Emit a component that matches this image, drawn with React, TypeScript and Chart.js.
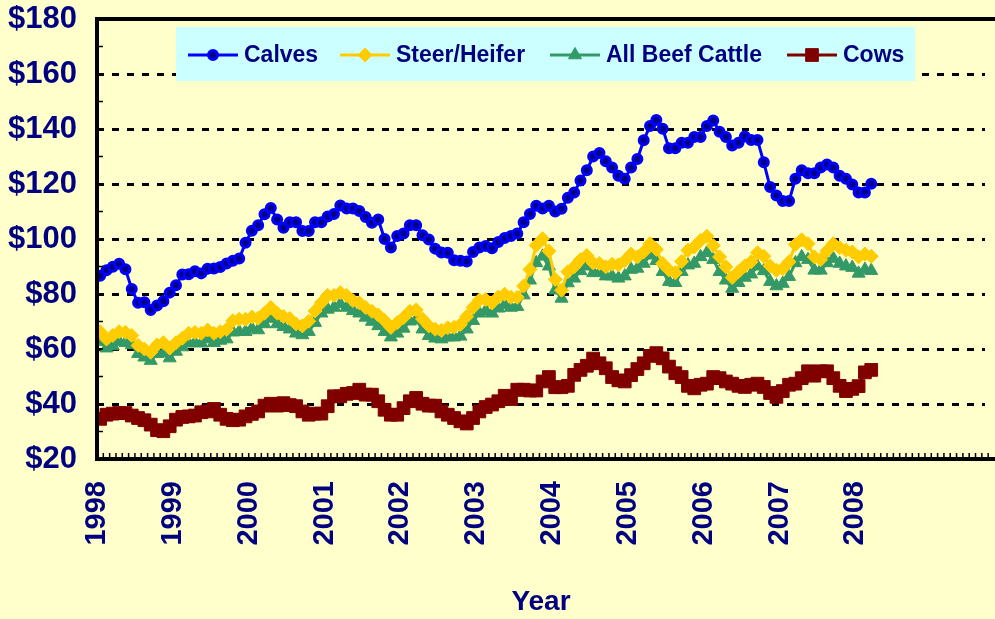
import React, { useEffect, useRef } from 'react';
import { Chart, registerables } from 'chart.js';
Chart.register(...registerables);

const yearLabels = ['1998', '1999', '2000', '2001', '2002', '2003', '2004', '2005', '2006', '2007', '2008'];
const yTicks = [20, 40, 60, 80, 100, 120, 140, 160, 180];
const seriesNames = ['Calves', 'Steer/Heifer', 'All Beef Cattle', 'Cows'];

// Monthly prices, Jan 1998 - Mar 2008
const calves = [
  86.6, 88.6, 89.9, 91.0, 89.0, 81.8, 76.8, 77.0, 74.2, 75.8, 77.4, 80.5,
  83.2, 87.1, 87.2, 88.3, 87.5, 89.2, 89.3, 89.8, 91.1, 92.1, 92.9, 98.6,
  103.0, 105.0, 109.0, 111.3, 107.1, 104.1, 106.1, 106.1, 102.9, 102.9, 106.1, 106.1,
  108.2, 109.1, 112.2, 111.1, 111.1, 110.2, 108.0, 105.9, 107.1, 100.0, 96.9, 101.1,
  102.0, 105.0, 105.0, 101.4, 99.8, 96.5, 95.1, 95.0, 92.3, 92.1, 91.8, 95.3,
  96.9, 97.5, 96.6, 98.9, 100.4, 101.1, 102.0, 106.1, 109.1, 112.1, 111.1, 112.1,
  110.0, 111.0, 115.0, 116.9, 121.3, 125.0, 130.0, 131.3, 128.3, 126.0, 123.0, 121.9,
  126.0, 129.1, 135.9, 141.1, 143.3, 140.1, 133.0, 133.0, 135.0, 135.0, 137.1, 137.1,
  141.1, 143.1, 139.0, 137.1, 134.0, 135.0, 137.3, 136.0, 136.0, 127.9, 118.9, 115.8,
  113.8, 113.8, 121.9, 125.0, 123.9, 123.9, 126.0, 127.1, 126.0, 123.0, 121.9, 119.8,
  116.9, 116.9, 120.1,
];
const steerHeifer = [
  66.3, 63.6, 64.9, 66.3, 66.1, 64.9, 61.3, 60.0, 58.8, 61.5, 62.3, 60.3,
  62.3, 63.9, 65.7, 66.0, 65.7, 66.9, 65.7, 66.3, 67.1, 70.3, 70.8, 70.8,
  71.6, 71.2, 73.0, 75.1, 73.0, 71.8, 71.1, 69.1, 68.4, 70.1, 73.8, 76.8,
  79.5, 79.5, 80.5, 79.5, 77.6, 76.8, 75.1, 73.7, 72.4, 70.3, 67.8, 69.6,
  71.4, 73.7, 74.2, 70.9, 68.4, 67.2, 66.7, 67.7, 67.9, 68.9, 71.8, 75.1,
  77.8, 78.0, 76.7, 78.9, 79.9, 78.8, 78.8, 82.9, 88.9, 97.7, 100.1, 95.6,
  85.3, 81.4, 88.1, 89.9, 92.5, 94.0, 91.3, 91.1, 89.9, 90.8, 90.6, 92.1,
  94.5, 93.5, 95.3, 98.3, 96.2, 91.1, 88.7, 87.7, 91.8, 95.9, 97.1, 99.5,
  101.0, 97.6, 93.5, 89.9, 86.0, 88.1, 90.2, 91.7, 95.0, 93.7, 90.2, 88.6,
  89.2, 91.7, 98.0, 99.7, 98.3, 93.5, 92.5, 95.7, 98.3, 96.9, 95.9, 95.3,
  93.5, 94.5, 93.7,
];
const allBeefCattle = [
  62.7, 60.3, 61.1, 62.7, 62.3, 61.5, 58.3, 57.0, 55.8, 58.3, 58.5, 56.7,
  59.1, 60.7, 62.1, 62.3, 62.1, 63.6, 62.3, 63.1, 63.6, 66.1, 66.3, 66.3,
  67.5, 66.9, 69.1, 71.1, 69.1, 68.1, 67.2, 65.7, 65.1, 66.3, 69.6, 73.0,
  74.4, 75.1, 76.4, 75.1, 73.9, 73.0, 71.5, 70.0, 68.4, 66.3, 64.3, 65.7,
  67.5, 70.1, 70.6, 67.2, 64.8, 63.9, 63.6, 64.3, 64.3, 64.6, 67.2, 70.3,
  73.0, 73.9, 73.0, 74.8, 76.0, 75.1, 75.4, 79.6, 85.0, 91.3, 93.7, 90.1,
  81.4, 78.4, 84.0, 85.7, 88.4, 90.1, 87.7, 87.7, 86.5, 86.5, 85.7, 86.5,
  88.9, 89.3, 91.1, 94.1, 92.1, 88.1, 84.5, 84.1, 88.1, 90.5, 91.1, 93.5,
  95.0, 92.5, 88.1, 85.0, 82.0, 84.1, 86.0, 87.2, 90.1, 88.4, 84.5, 82.9,
  83.8, 86.3, 91.3, 93.5, 92.5, 88.6, 88.6, 91.3, 92.9, 91.1, 90.1, 89.6,
  87.5, 88.9, 88.5,
];
const cows = [
  34.6, 36.1, 36.5, 36.7, 36.7, 35.8, 34.9, 34.1, 32.5, 30.5, 30.1, 31.9,
  34.3, 35.3, 35.5, 35.8, 37.0, 37.3, 38.2, 36.1, 34.6, 34.1, 34.3, 35.5,
  36.4, 37.3, 39.4, 40.1, 39.4, 40.3, 39.6, 39.2, 37.3, 36.1, 36.5, 36.5,
  39.2, 42.8, 42.8, 43.7, 44.0, 45.2, 43.4, 43.4, 41.0, 37.9, 36.1, 36.1,
  38.5, 41.0, 42.2, 40.1, 39.4, 39.4, 37.3, 36.1, 34.9, 33.7, 32.9, 34.9,
  37.3, 38.9, 39.8, 41.0, 43.0, 41.8, 45.2, 45.2, 44.9, 44.9, 48.2, 49.8,
  46.1, 46.1, 46.6, 50.6, 52.4, 53.9, 56.5, 54.8, 53.0, 49.8, 48.6, 48.2,
  50.5, 52.7, 54.8, 57.5, 58.5, 56.6, 53.6, 51.2, 49.8, 46.6, 45.7, 47.0,
  47.4, 49.8, 49.4, 48.2, 47.4, 46.6, 46.2, 47.0, 47.4, 46.2, 44.0, 42.6,
  44.7, 47.0, 47.4, 49.4, 51.9, 50.3, 51.9, 51.9, 49.4, 46.6, 44.7, 45.5,
  46.5, 51.5, 52.4,
];

const NAVY = '#000080';
const BG = '#FFFFCC';
const FONT = '"Liberation Sans", Arial, sans-serif';

const styles = [
  { color: '#0000FF', fill: '#000080', point: 'circle', radius: 4.5, bw: 3, lw: 3 },
  { color: '#FFCC00', fill: '#FFCC00', point: 'rectRot', radius: 7, bw: 1, lw: 3 },
  { color: '#339966', fill: '#339966', point: 'triangle', radius: 7.5, bw: 1, lw: 3 },
  { color: '#800000', fill: '#800000', point: 'rect', radius: 9, bw: 1, lw: 3 },
];

function drawMarker(ctx: CanvasRenderingContext2D, kind: string, x: number, y: number, s: any) {
  ctx.save();
  ctx.fillStyle = s.fill;
  ctx.strokeStyle = s.color;
  ctx.lineWidth = s.bw;
  ctx.beginPath();
  const r = s.radius;
  if (kind === 'circle') {
    ctx.arc(x, y, r, 0, Math.PI * 2);
  } else if (kind === 'rectRot') {
    ctx.moveTo(x, y - r); ctx.lineTo(x + r, y); ctx.lineTo(x, y + r); ctx.lineTo(x - r, y); ctx.closePath();
  } else if (kind === 'triangle') {
    ctx.moveTo(x, y - r); ctx.lineTo(x + r * 0.87, y + r * 0.5); ctx.lineTo(x - r * 0.87, y + r * 0.5); ctx.closePath();
  } else {
    const h = r * Math.SQRT1_2;
    ctx.rect(x - h, y - h, 2 * h, 2 * h);
  }
  ctx.fill();
  ctx.stroke();
  ctx.restore();
}

export default function App() {
  const ref = useRef<HTMLCanvasElement>(null);
  useEffect(() => {
    document.body.style.margin = '0';
    document.body.style.background = BG;
    const canvas = ref.current!;
    const series = [calves, steerHeifer, allBeefCattle, cows];
    const datasets = series.map((arr, k) => ({
      label: seriesNames[k],
      data: arr.map((v, i) => ({ x: i + 0.5, y: v })),
      borderColor: styles[k].color,
      backgroundColor: styles[k].fill,
      pointBorderColor: styles[k].color,
      pointBackgroundColor: styles[k].fill,
      pointStyle: styles[k].point as any,
      pointRadius: styles[k].radius,
      pointBorderWidth: styles[k].bw,
      borderWidth: styles[k].lw,
      tension: 0,
      order: k,
    }));

    const bgPlugin = {
      id: 'bg',
      beforeDraw(chart: any) {
        const c = chart.ctx;
        c.save();
        c.fillStyle = BG;
        c.fillRect(0, 0, chart.width, chart.height);
        c.restore();
      },
    };
    const framePlugin = {
      id: 'frame',
      afterDraw(chart: any) {
        const c = chart.ctx;
        const a = chart.chartArea;
        const xs = chart.scales.x;
        const ys = chart.scales.y;
        c.save();
        // minor ticks
        c.strokeStyle = '#000';
        c.lineWidth = 1.5;
        c.beginPath();
        for (let m = 0; m <= Math.ceil(xs.max); m++) {
          const px = xs.getPixelForValue(m);
          c.moveTo(px, a.bottom);
          c.lineTo(px, a.bottom - 6);
        }
        for (let v = 20; v <= 180; v += 10) {
          const py = ys.getPixelForValue(v);
          c.moveTo(a.left, py);
          c.lineTo(a.left + 6, py);
        }
        c.stroke();
        // frame
        c.lineWidth = 4;
        c.beginPath();
        c.moveTo(a.right + 10, a.top);
        c.lineTo(a.left, a.top);
        c.lineTo(a.left, a.bottom);
        c.lineTo(a.right + 10, a.bottom);
        c.stroke();

        // legend
        c.fillStyle = '#CCFFFF';
        c.fillRect(176, 27, 739, 54);
        const lineX = [188, 340, 550, 787];
        const ly = 55;
        c.font = 'bold 23px ' + FONT;
        c.textBaseline = 'middle';
        c.textAlign = 'left';
        for (let k = 0; k < 4; k++) {
          c.strokeStyle = styles[k].color;
          c.lineWidth = 3;
          c.beginPath();
          c.moveTo(lineX[k], ly);
          c.lineTo(lineX[k] + 50, ly);
          c.stroke();
          drawMarker(c, styles[k].point, lineX[k] + 25, ly, styles[k]);
          c.fillStyle = NAVY;
          c.fillText(seriesNames[k], lineX[k] + 56, ly + 1);
        }
        c.restore();
      },
    };

    const chart = new Chart(canvas, {
      type: 'line',
      data: { datasets: datasets as any },
      plugins: [bgPlugin, framePlugin],
      options: {
        animation: false,
        responsive: false,
        maintainAspectRatio: false,
        layout: { padding: { top: 19, left: 0, right: 0, bottom: 0 } },
        plugins: { legend: { display: false }, tooltip: { enabled: false }, title: { display: false } },
        scales: {
          x: {
            type: 'linear',
            min: 0,
            max: 140.5,
            afterFit: (s: any) => {
              s.height = 160;
              s.paddingTop = 0; s.paddingBottom = 0; s.paddingLeft = 0; s.paddingRight = 0;
            },
            afterBuildTicks: (s: any) => { s.ticks = yearLabels.map((_, i) => ({ value: i * 12 })); },
            grid: { display: false, drawTicks: false },
            border: { display: false },
            ticks: {
              autoSkip: false,
              maxRotation: 90,
              minRotation: 90,
              padding: 22,
              color: NAVY,
              font: { family: FONT, size: 29, weight: 'bold' },
              callback: (v: any) => yearLabels[Math.round(Number(v) / 12)] ?? '',
            },
            title: {
              display: true,
              text: 'Year',
              color: NAVY,
              font: { family: FONT, size: 28, weight: 'bold' },
              padding: { top: 0, bottom: 0 },
            },
          },
          y: {
            min: 20,
            max: 180,
            afterFit: (s: any) => {
              s.width = 97;
              s.paddingTop = 0; s.paddingBottom = 0; s.paddingLeft = 0; s.paddingRight = 0;
            },
            afterBuildTicks: (s: any) => { s.ticks = yTicks.map((v) => ({ value: v })); },
            border: { display: false, dash: [7, 8] },
            grid: {
              drawTicks: false,
              lineWidth: 3,
              color: (ctx: any) => (ctx.tick && (ctx.tick.value === 20 || ctx.tick.value === 180) ? 'rgba(0,0,0,0)' : '#000'),
              borderDash: [7, 8],
            } as any,
            ticks: {
              padding: 20,
              color: NAVY,
              font: { family: FONT, size: 31, weight: 'bold', lineHeight: 0.5 },
              callback: (v: any) => '$' + v,
            },
          },
        },
      } as any,
    });
    return () => chart.destroy();
  }, []);

  return (
    <div style={{ position: 'fixed', left: 0, top: 0, width: 995, height: 619, background: BG }}>
      <canvas ref={ref} width={995} height={619} style={{ display: 'block', width: 995, height: 619 }} />
    </div>
  );
}
